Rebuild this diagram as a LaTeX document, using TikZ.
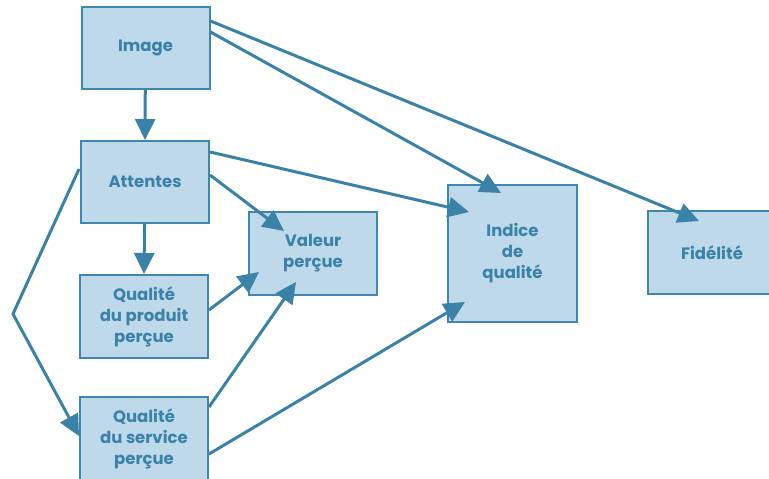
\documentclass[tikz,border=0pt]{standalone}
\usepackage{fontspec}
\setmainfont{Poppins}[BoldFont={Poppins Bold}]
\usetikzlibrary{arrows.meta,calc}
\definecolor{boxfill}{HTML}{BDD9EA}
\definecolor{boxline}{HTML}{3F87AB}
\definecolor{ink}{HTML}{3A82A8}
\tikzset{
  box/.style={draw=boxline, line width=2pt, fill=boxfill, text=ink,
    font=\fontsize{16.5}{21}\selectfont\bfseries, align=center,
    inner sep=0pt, minimum width=128pt, minimum height=83pt},
  link/.style={draw=ink, line width=3pt,
    -{Triangle[length=21pt,width=20pt]}}
}
\begin{document}
\begin{tikzpicture}[x=1pt,y=-1pt]
\useasboundingbox (0,0) rectangle (769,479);
\clip (0,0) rectangle (769,479);
% boxes
\node[box, minimum height=82pt] (img) at (145.5,48) {Image};
\node[box, minimum height=82pt] (att) at (145,182) {Attentes};
\node[box] (prod) at (144,316.5) {Qualité\\du produit\\perçue};
\node[box] (serv) at (144,438.5) {Qualité\\du service\\perçue};
\node[box] (val) at (313,253.5) {Valeur\\perçue};
\node[box, minimum width=129pt, minimum height=137pt] (ind) at (512.5,253.5) {Indice\\de\\qualité};
\node[box] (fid) at (712,252.5) {Fidélité};
\coordinate (bend) at (13,314);
% connectors
\draw[link] (img) -- (att.north);
\draw[link] (att) -- (prod.north);
\draw[link] ($(img.north east)+(0,26)$) -- ($(ind.north west)+(54,9)$);
\draw[link] ($(img.north east)+(0,15)$) -- ($(fid.north west)+(52,11)$);
\draw[link] ($(att.north east)+(0,12)$) -- ($(ind.north west)+(22,28)$);
\draw[link] ($(att.north east)+(0,35)$) -- ($(val.north west)+(36,20)$);
\draw[link] ($(prod.north east)+(0,36)$) -- ($(val.north west)+(11,61)$);
\draw[link] ($(serv.north east)+(0,11)$) -- ($(val.north west)+(48,71)$);
\draw[link] ($(serv.north east)+(0,58)$) -- ($(ind.north west)+(18,118)$);
\draw[link] ($(att.north west)+(-1,29)$) -- (bend) -- ($(serv.north west)+(0,40)$);
\end{tikzpicture}
\end{document}
